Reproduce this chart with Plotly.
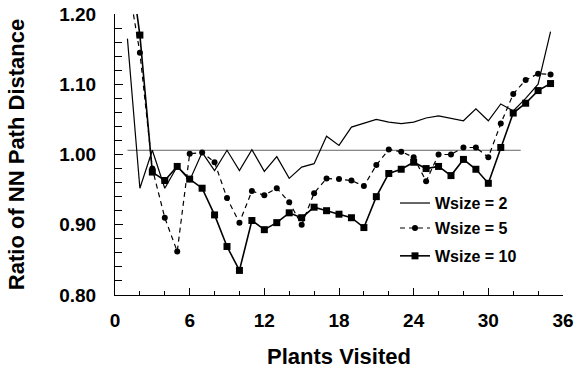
import plotly.graph_objects as go

plants = list(range(1, 36))
wsize2 = [1.165, 0.952, 1.006, 0.952, 0.983, 0.963, 1.003, 0.977, 1.006, 0.977,
          1.007, 0.976, 0.997, 0.966, 0.982, 0.987, 1.026, 1.013, 1.039, 1.044,
          1.050, 1.046, 1.044, 1.046, 1.052, 1.055, 1.051, 1.048, 1.065, 1.048,
          1.072, 1.062, 1.080, 1.100, 1.175]
wsize5 = [1.250, 1.145, 0.980, 0.910, 0.862, 1.001, 1.003, 0.989, 0.938, 0.903,
          0.948, 0.942, 0.952, 0.932, 0.900, 0.945, 0.966, 0.965, 0.963, 0.955,
          0.985, 1.007, 1.004, 0.996, 0.962, 1.000, 1.000, 1.010, 1.010, 0.996,
          1.044, 1.086, 1.106, 1.115, 1.114]
wsize10 = [1.300, 1.170, 0.975, 0.963, 0.983, 0.965, 0.952, 0.914, 0.869, 0.835,
           0.906, 0.893, 0.903, 0.917, 0.910, 0.925, 0.920, 0.915, 0.910, 0.896,
           0.940, 0.973, 0.979, 0.989, 0.980, 0.983, 0.970, 0.993, 0.979, 0.959,
           1.010, 1.059, 1.073, 1.091, 1.101]
ref_x = [1, 32.6]
ref_y = [1.006, 1.006]

FONT = "Liberation Sans, Arial, sans-serif"

fig = go.Figure()
fig.add_trace(go.Scatter(x=ref_x, y=ref_y, mode="lines",
                         line=dict(color="#666666", width=1), showlegend=False,
                         hoverinfo="skip"))
fig.add_trace(go.Scatter(x=plants, y=wsize2, mode="lines", name="Wsize = 2",
                         line=dict(color="black", width=1.2), legend="legend"))
fig.add_trace(go.Scatter(x=plants, y=wsize5, mode="lines+markers", name="Wsize = 5",
                         line=dict(color="black", width=1.2, dash="5px,4px"),
                         marker=dict(symbol="circle", size=6, color="black"),
                         legend="legend2"))
fig.add_trace(go.Scatter(x=plants, y=wsize10, mode="lines+markers", name="Wsize = 10",
                         line=dict(color="black", width=1.6),
                         marker=dict(symbol="square", size=7, color="black"),
                         legend="legend3"))

leg_common = dict(x=0.625, xanchor="left", yanchor="middle",
                  bgcolor="rgba(0,0,0,0)", itemwidth=30,
                  font=dict(size=16, family=FONT, weight="bold"))

fig.update_layout(
    width=576, height=369,
    margin=dict(l=115, r=13, t=14, b=74),
    paper_bgcolor="white", plot_bgcolor="white",
    font=dict(family=FONT, color="black", size=16),
    legend=dict(y=0.327, **leg_common),
    legend2=dict(y=0.238, **leg_common),
    legend3=dict(y=0.139, **leg_common),
    xaxis=dict(range=[0, 36], tickmode="linear", tick0=0, dtick=6,
               showline=True, linecolor="black", linewidth=1,
               ticks="inside", ticklen=7, tickcolor="black",
               minor=dict(dtick=2, ticks="inside", ticklen=4, tickcolor="black"),
               showgrid=False, zeroline=False, automargin=False,
               ticklabelstandoff=8,
               tickfont=dict(size=19, weight="bold"),
               title=dict(text="Plants Visited", font=dict(size=22, weight="bold"),
                          standoff=18)),
    yaxis=dict(range=[0.80, 1.20], tickmode="linear", tick0=0.8, dtick=0.1,
               tickformat=".2f",
               showline=True, linecolor="black", linewidth=1,
               ticks="inside", ticklen=8, tickcolor="black",
               minor=dict(dtick=0.02, ticks="inside", ticklen=7, tickcolor="black"),
               showgrid=False, zeroline=False, automargin=False,
               ticklabelstandoff=14,
               tickfont=dict(size=19, weight="bold"),
               title=dict(text="Ratio of NN Path Distance",
                          font=dict(size=22, weight="bold"), standoff=28)),
)

fig.write_html("out.html")
